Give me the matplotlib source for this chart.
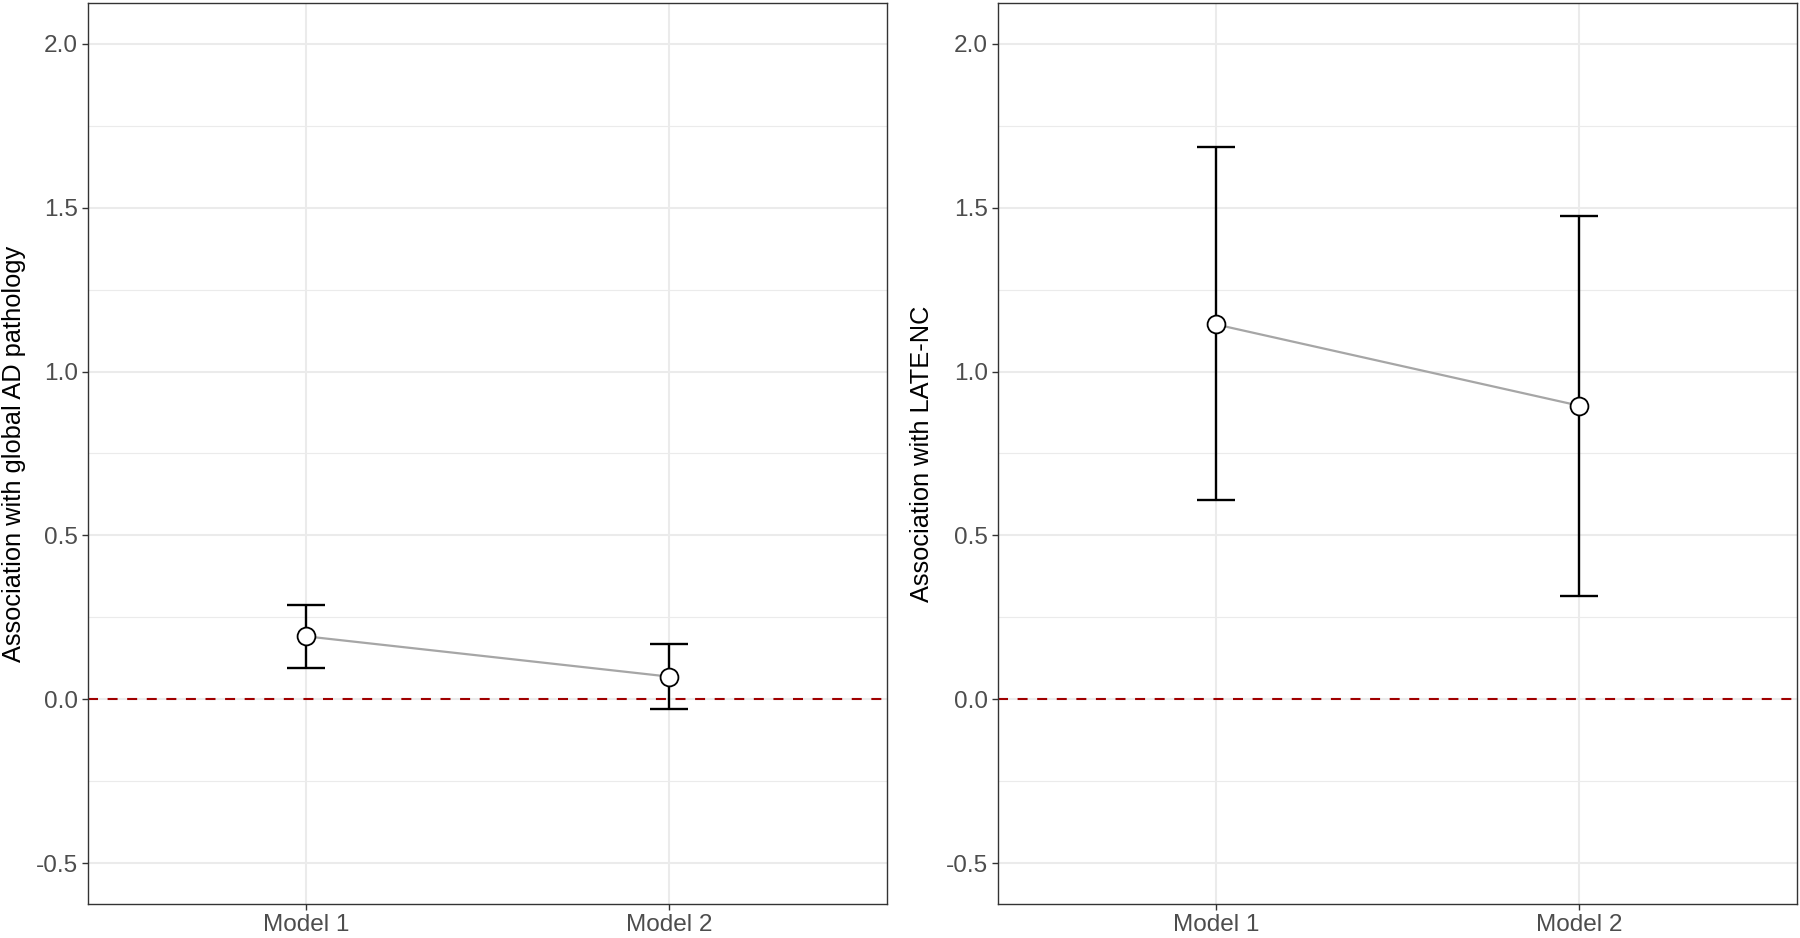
import matplotlib
matplotlib.use("Agg")
import matplotlib.pyplot as plt
import numpy as np

plt.rcParams["font.family"] = ["Liberation Sans", "DejaVu Sans"]

models = ["Model 1", "Model 2"]

# global AD pathology
ad_est = [0.192, 0.069]
ad_lo = [0.095, -0.031]
ad_hi = [0.287, 0.168]

# LATE-NC
late_est = [1.144, 0.896]
late_lo = [0.608, 0.316]
late_hi = [1.686, 1.474]

panels = [
    ("Association with global AD pathology", ad_est, ad_lo, ad_hi),
    ("Association with LATE-NC", late_est, late_lo, late_hi),
]

W, H = 1800, 938
fig = plt.figure(figsize=(W / 100, H / 100), dpi=100)
fig.patch.set_facecolor("white")

# panel boxes in pixels: (left, right, top, bottom), plus y-label centre x
boxes = [(88, 887, 3, 904, 14), (998, 1797, 3, 904, 922)]

for (ylab, est, lo, hi), (l, r, t, b, lx) in zip(panels, boxes):
    ax = fig.add_axes([l / W, 1 - b / H, (r - l) / W, (b - t) / H])
    x = np.arange(1, len(models) + 1)
    est = np.asarray(est)
    yerr = [est - np.asarray(lo), np.asarray(hi) - est]

    ax.axhline(0, color="#A00000", lw=1.5, ls=(0, (4.8, 4.6)), zorder=2)
    ax.plot(x, est, color="#A6A6A6", lw=1.6, zorder=3)
    ax.errorbar(x, est, yerr=yerr, fmt="none", ecolor="black",
                elinewidth=1.7, capsize=14, capthick=1.7, zorder=4)
    ax.scatter(x, est, s=165, facecolor="white", edgecolor="black",
               linewidth=1.3, zorder=5)

    ax.set_xlim(0.4, 2.6)
    ax.set_ylim(-0.625, 2.125)
    ax.set_xticks(x)
    ax.set_xticklabels(models)
    ax.set_yticks([-0.5, 0.0, 0.5, 1.0, 1.5, 2.0])
    ax.set_yticklabels(["-0.5", "0.0", "0.5", "1.0", "1.5", "2.0"])
    ax.set_yticks(np.arange(-0.25, 2.0, 0.5), minor=True)

    ax.grid(True, which="major", color="#EBEBEB", lw=1.5, zorder=0)
    ax.grid(True, which="minor", axis="y", color="#EBEBEB", lw=0.8, zorder=0)
    ax.set_axisbelow(True)

    ax.tick_params(axis="both", which="major", labelsize=17.6, labelcolor="#4D4D4D",
                   color="#333333", length=4.4, width=1.0, pad=3)
    ax.tick_params(axis="y", which="minor", length=0)
    for s in ax.spines.values():
        s.set_color("#333333")
        s.set_linewidth(1.0)
    fig.text(lx / W, 1 - ((t + b) / 2) / H, ylab, rotation=90, fontsize=18.3,
             color="black", ha="center", va="center")

fig.savefig("out.png", dpi=100)
